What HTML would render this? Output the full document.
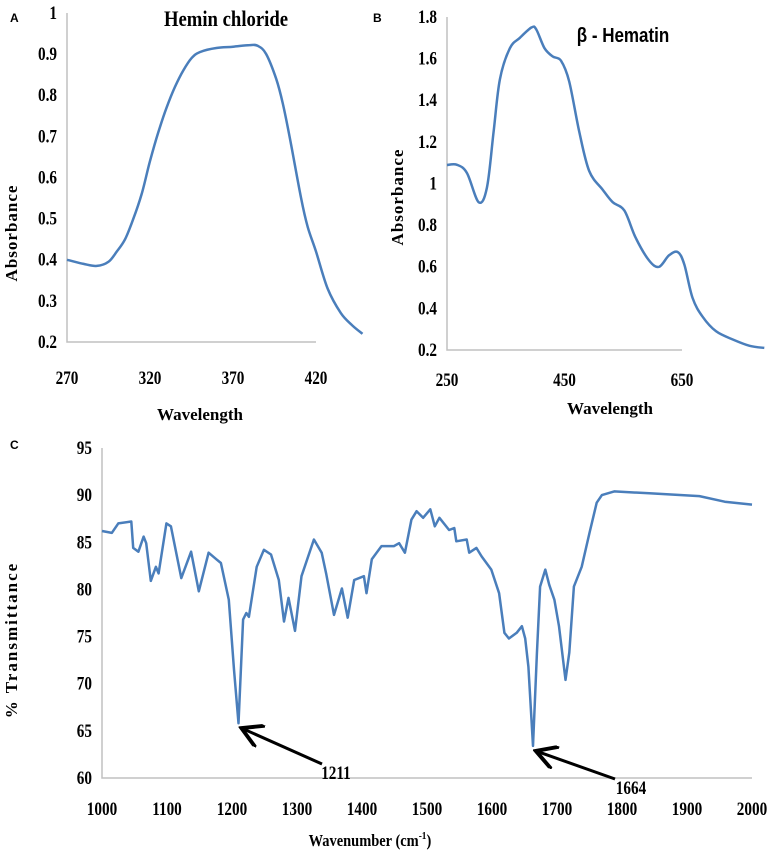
<!DOCTYPE html>
<html><head><meta charset="utf-8">
<style>
html,body{margin:0;padding:0;background:#fff;overflow:hidden;}
svg{display:block;}
.tick{font-family:"Liberation Serif",serif;font-weight:bold;font-size:19px;fill:#000;}
.ttl{font-family:"Liberation Serif",serif;font-weight:bold;font-size:17px;fill:#000;}
.pl{font-family:"Liberation Sans",sans-serif;font-weight:bold;font-size:12px;fill:#000;}
</style></head>
<body>
<svg id="fig" width="773" height="858" viewBox="0 0 773 858" xmlns="http://www.w3.org/2000/svg">
<text class="pl" x="10" y="22">A</text>
<text class="pl" x="373" y="22">B</text>
<text class="pl" x="10" y="449">C</text>
<text x="226" y="26" text-anchor="middle" font-family="Liberation Serif, serif" font-weight="bold" font-size="22" transform="translate(226,0) scale(0.85,1) translate(-226,0)">Hemin chloride</text>
<text x="623" y="42" text-anchor="middle" font-family="Liberation Sans, sans-serif" font-weight="bold" font-size="20" transform="translate(623,0) scale(0.85,1) translate(-623,0)">β - Hematin</text>
<text class="ttl" transform="translate(17,233) rotate(-90)" text-anchor="middle" letter-spacing="1">Absorbance</text>
<text class="ttl" transform="translate(403,197) rotate(-90)" text-anchor="middle" letter-spacing="1">Absorbance</text>
<text class="ttl" transform="translate(17,640) rotate(-90)" text-anchor="middle" letter-spacing="2">% Transmittance</text>
<text class="ttl" x="200" y="420" text-anchor="middle">Wavelength</text>
<text class="ttl" x="610" y="414" text-anchor="middle">Wavelength</text>
<text class="ttl" x="370" y="846" text-anchor="middle" transform="translate(370,0) scale(0.85,1) translate(-370,0)">Wavenumber (cm<tspan font-size="11" dy="-7">-1</tspan><tspan dy="7">)</tspan></text>
<g id="gA"></g>
<g id="gB"></g>
<g id="gC"></g>
</svg>
<script>
const aX=[270,280,288,295,300,305,310,315,320,325,330,335,340,345,350,360,370,380,385,390,396,400,405,411,415,420,427,435,442,448];
const aY=[.40,.39,.385,.395,.42,.45,.50,.56,.64,.71,.77,.82,.86,.89,.905,.915,.918,.922,.92,.90,.84,.78,.68,.55,.48,.42,.33,.27,.24,.22];
const aXTicks=[270,320,370,420];
const aYTicks=[0.2,0.3,0.4,0.5,0.6,0.7,0.8,0.9,1];

const bX=[250,267,284,304,318,329,340,357,374,394,402,416,430,444,458,475,492,515,532,552,571,594,611,628,643,654,668,685,708,737,765,790];
const bY=[1.089,1.09,1.05,0.91,0.98,1.24,1.50,1.65,1.70,1.75,1.74,1.65,1.61,1.59,1.49,1.25,1.06,0.97,0.91,0.87,0.74,0.63,0.60,0.655,0.67,0.61,0.45,0.36,0.29,0.25,0.22,0.21];
const bXTicks=[250,450,650];
const bYTicks=[0.2,0.4,0.6,0.8,1,1.2,1.4,1.6,1.8];

const cX=[1000,1015,1025,1045,1048,1056,1064,1068,1075,1083,1087,1099,1106,1122,1137,1149,1164,1176,1183,1195,1203,1210,1217,1222,1226,1238,1249,1260,1272,1280,1287,1297,1307,1326,1338,1345,1357,1369,1378,1388,1403,1407,1415,1430,1449,1457,1466,1476,1484,1494,1505,1512,1519,1534,1542,1545,1561,1565,1576,1584,1599,1611,1619,1626,1638,1646,1651,1656,1663,1669,1674,1682,1688,1696,1703,1713,1719,1726,1738,1750,1761,1769,1788,1842,1919,1958,2000];
const cY=[86.2,86.0,87.0,87.2,84.4,84.0,85.6,84.9,80.9,82.4,81.7,87.0,86.7,81.2,84.0,79.8,83.9,83.2,82.8,78.9,71.5,65.8,76.8,77.5,77.1,82.4,84.2,83.7,81.0,76.6,79.1,75.6,81.4,85.3,83.9,81.6,77.3,80.1,77.0,81.0,81.4,79.6,83.2,84.6,84.6,84.9,83.9,87.4,88.3,87.6,88.5,86.7,87.6,86.3,86.5,85.1,85.3,83.9,84.4,83.5,82.1,79.6,75.4,74.8,75.4,76.1,74.8,71.8,63.4,73.2,80.3,82.1,80.5,78.9,76.1,70.4,73.3,80.3,82.4,86.0,89.2,90.0,90.4,90.2,89.9,89.3,89.0];
const cXTicks=[1000,1100,1200,1300,1400,1500,1600,1700,1800,1900,2000];
const cYTicks=[60,65,70,75,80,85,90,95];
const cAnnot=[1211,1664];

const NS="http://www.w3.org/2000/svg";
function mk(tag,attrs,parent){const e=document.createElementNS(NS,tag);for(const k in attrs)e.setAttribute(k,attrs[k]);parent.appendChild(e);return e;}
function scale(d0,d1,r0,r1){return v=>r0+(v-d0)/(d1-d0)*(r1-r0);}
function smoothPath(P){
  let d='M'+P[0][0].toFixed(1)+','+P[0][1].toFixed(1);
  for(let i=0;i<P.length-1;i++){
    const p0=P[i-1]||P[i],p1=P[i],p2=P[i+1],p3=P[i+2]||P[i+1];
    const c1=[p1[0]+(p2[0]-p0[0])/6,p1[1]+(p2[1]-p0[1])/6];
    const c2=[p2[0]-(p3[0]-p1[0])/6,p2[1]-(p3[1]-p1[1])/6];
    d+=`C${c1[0].toFixed(1)},${c1[1].toFixed(1)} ${c2[0].toFixed(1)},${c2[1].toFixed(1)} ${p2[0].toFixed(1)},${p2[1].toFixed(1)}`;
  }
  return d;
}

function chart(g,xs,ys,xT,yT,px0,px1,py0,py1,dx0,dx1,dy0,dy1,name,smooth,xlabOff){
  const sx=scale(dx0,dx1,px0,px1), sy=scale(dy0,dy1,py0,py1);
  const ax=mk('path',{d:`M${px0},${sy(dy1)}V${py0}H${px1}`,fill:'none',stroke:'#c0c0c0','stroke-width':1.5},g);
  
  
  yT.forEach(v=>{
    const t=mk('text',{x:px0-10,y:sy(v)+6,'text-anchor':'end',class:'tick',transform:`translate(${px0-10},0) scale(0.8,1) translate(${-(px0-10)},0)`},g);
    t.textContent=String(v);
    
    
  });
  xT.forEach(v=>{
    const t=mk('text',{x:sx(v),y:py0+xlabOff,'text-anchor':'middle',class:'tick',transform:`translate(${sx(v)},0) scale(0.8,1) translate(${-sx(v)},0)`},g);
    t.textContent=String(v);
    
    
  });
  const P=xs.map((x,i)=>[sx(x),sy(ys[i])]);
  let d;
  if(smooth) d=smoothPath(P);
  else {d='';P.forEach((p,i)=>{d+=(i?'L':'M')+p[0].toFixed(1)+','+p[1].toFixed(1);});}
  const p=mk('path',{d:d,fill:'none',stroke:'#4a7ebb','stroke-width':2.5,'stroke-linejoin':'round'},g);
  
  
  return {sx,sy};
}
chart(document.getElementById('gA'),aX,aY,aXTicks,aYTicks,67,316,342,13,270,420,0.2,1,'chart-a',true,42);
chart(document.getElementById('gB'),bX,bY,bXTicks,bYTicks,447,682,350,17,250,650,0.2,1.8,'chart-b',true,36);
const c=chart(document.getElementById('gC'),cX,cY,cXTicks,cYTicks,102,752,778,448,1000,2000,60,95,'chart-c',false,37);

const gC=document.getElementById('gC');
mk('defs',{},gC).innerHTML='<marker id="ah" markerWidth="8" markerHeight="8" refX="6" refY="4" orient="auto" markerUnits="strokeWidth"><path d="M0,0 L7,4 L0,8" fill="none" stroke="#000" stroke-width="1.3"/></marker>';
const labPos=[[336,779],[631,794]];
const tails=[[322,764],[615,779]];
cAnnot.forEach((v,i)=>{
  const idx=cX.reduce((b,x,j)=>Math.abs(x-v)<Math.abs(cX[b]-v)?j:b,0);
  const hx=c.sx(v)+5, hy=c.sy(cY[idx])+6;
  const ar=mk('line',{x1:tails[i][0],y1:tails[i][1],x2:hx,y2:hy,stroke:'#000','stroke-width':3,'marker-end':'url(#ah)'},gC);
  
  
  const t=mk('text',{x:labPos[i][0],y:labPos[i][1],'text-anchor':'middle',class:'tick',transform:`translate(${labPos[i][0]},0) scale(0.8,1) translate(${-labPos[i][0]},0)`},gC);
  t.setAttribute('font-weight','normal');
  t.textContent=String(v);
  
  
});
</script>
</body></html>
